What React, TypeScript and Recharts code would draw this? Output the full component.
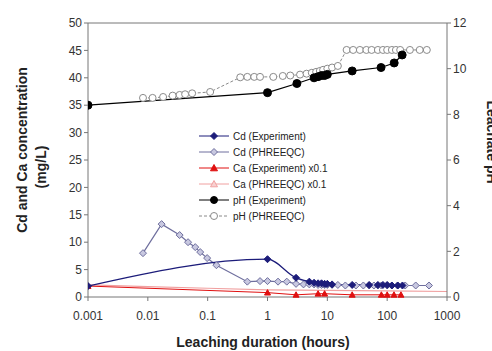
import { ComposedChart, Line, XAxis, YAxis, ReferenceLine } from 'recharts';

const xTicks = [0.001, 0.01, 0.1, 1, 10, 100, 1000];
const leftTicks = [0, 5, 10, 15, 20, 25, 30, 35, 40, 45, 50];
const rightTicks = [0, 2, 4, 6, 8, 10, 12];

const cdExpHours = [0.001, 1, 3, 5, 6, 7, 8, 9, 10, 12, 26, 50, 70, 85, 100, 120, 150, 180];
const cdExpValues = [2.0, 6.9, 3.5, 2.8, 2.6, 2.5, 2.5, 2.4, 2.4, 2.3, 2.2, 2.2, 2.2, 2.2, 2.2, 2.1, 2.1, 2.1];

const cdPhrHours = [0.0083, 0.017, 0.034, 0.047, 0.062, 0.075, 0.098, 0.14, 0.46, 0.75, 1.0, 1.5, 2.1, 3.0, 4, 5, 6, 7, 8, 9, 10, 12, 15, 20, 30, 40, 50, 60, 70, 80, 100, 120, 150, 200, 300, 500];
const cdPhrValues = [8.0, 13.3, 11.3, 10.0, 9.1, 8.2, 7.1, 5.8, 2.8, 2.9, 2.9, 2.8, 2.8, 2.4, 2.3, 2.3, 2.3, 2.2, 2.2, 2.2, 2.2, 2.2, 2.2, 2.1, 2.1, 2.1, 2.1, 2.1, 2.1, 2.1, 2.1, 2.1, 2.1, 2.1, 2.1, 2.1];

const caExpHours = [0.001, 1, 3, 7, 9, 26, 80, 100, 130, 170];
const caExpValues = [2.0, 0.8, 0.4, 0.6, 0.6, 0.4, 0.4, 0.4, 0.4, 0.4];

const caPhrHours = [0.001, 0.01, 0.1, 1, 10, 100, 1000];
const caPhrValues = [2.2, 1.9, 1.6, 1.3, 1.2, 1.1, 1.0];

const phExpHours = [0.001, 1, 3.1, 6, 7, 8, 9, 10, 26, 79, 131, 178];
const phExpValues = [8.4, 8.95, 9.35, 9.6, 9.65, 9.7, 9.7, 9.75, 9.9, 10.05, 10.25, 10.6];

const phPhrHours = [0.0083, 0.012, 0.018, 0.026, 0.034, 0.042, 0.055, 0.11, 0.35, 0.46, 0.6, 0.75, 1.25, 1.8, 2.4, 3.5, 4.5, 5.5, 6.5, 7.5, 8.5, 10, 12, 15, 21, 27, 35, 45, 55, 70, 85, 100, 120, 140, 165, 240, 350, 460];
const phPhrValues = [8.72, 8.72, 8.76, 8.82, 8.85, 8.88, 8.92, 8.98, 9.62, 9.64, 9.64, 9.64, 9.64, 9.68, 9.7, 9.74, 9.78, 9.82, 9.86, 9.9, 9.95, 10.0, 10.05, 10.12, 10.82, 10.82, 10.82, 10.82, 10.82, 10.82, 10.82, 10.82, 10.82, 10.82, 10.82, 10.82, 10.82, 10.82];

const zip = (xs: number[], ys: number[]) => xs.map((x, i) => ({ x, y: ys[i] }));

const C_CD_EXP = '#1c1c7a';
const C_CD_PHR = '#6f6f9e';
const C_CA_EXP = '#e01010';
const C_CA_PHR = '#f0a0a0';
const C_PH_EXP = '#000000';
const C_PH_PHR = '#8a8a8a';

const diamond = (stroke: string, fill: string, r = 3.5) => (p: any) => (
  <polygon key={p.index} points={`${p.cx},${p.cy - r} ${p.cx + r},${p.cy} ${p.cx},${p.cy + r} ${p.cx - r},${p.cy}`} stroke={stroke} fill={fill} strokeWidth={1} />
);
const triangle = (stroke: string, fill: string, r = 3.5) => (p: any) => (
  <polygon key={p.index} points={`${p.cx},${p.cy - r} ${p.cx + r},${p.cy + r * 0.8} ${p.cx - r},${p.cy + r * 0.8}`} stroke={stroke} fill={fill} strokeWidth={1} />
);
const circle = (stroke: string, fill: string, r = 3.5) => (p: any) => (
  <circle key={p.index} cx={p.cx} cy={p.cy} r={r} stroke={stroke} fill={fill} strokeWidth={1} />
);

const legendItems = [
  { label: 'Cd (Experiment)', color: C_CD_EXP, shape: 'diamond', fill: C_CD_EXP, dash: '' },
  { label: 'Cd (PHREEQC)', color: C_CD_PHR, shape: 'diamond', fill: '#c8c8e0', dash: '' },
  { label: 'Ca (Experiment) x0.1', color: C_CA_EXP, shape: 'triangle', fill: C_CA_EXP, dash: '' },
  { label: 'Ca (PHREEQC) x0.1', color: C_CA_PHR, shape: 'triangle', fill: '#f8d0d0', dash: '' },
  { label: 'pH (Experiment)', color: C_PH_EXP, shape: 'circle', fill: C_PH_EXP, dash: '' },
  { label: 'pH (PHREEQC)', color: C_PH_PHR, shape: 'circle', fill: '#ffffff', dash: '3 2' },
];

function LegendBox() {
  return (
    <div style={{ position: 'absolute', left: 197, top: 128, fontFamily: 'Liberation Sans, Arial, sans-serif', fontSize: 10, color: '#222' }}>
      {legendItems.map((it) => {
        const p = { cx: 17, cy: 6, index: 0 };
        const sym = it.shape === 'diamond' ? diamond(it.color, it.fill)(p) : it.shape === 'triangle' ? triangle(it.color, it.fill)(p) : circle(it.color, it.fill)(p);
        return (
          <div key={it.label} style={{ display: 'flex', alignItems: 'center', height: 16 }}>
            <svg width={34} height={12}>
              <line x1={2} y1={6} x2={32} y2={6} stroke={it.color} strokeWidth={1} strokeDasharray={it.dash} />
              {sym}
            </svg>
            <span style={{ marginLeft: 2 }}>{it.label}</span>
          </div>
        );
      })}
    </div>
  );
}

const axisTick = { fill: '#333', fontSize: 12, fontFamily: 'Liberation Sans, Arial, sans-serif' };
const titleStyle: React.CSSProperties = { position: 'absolute', fontFamily: 'Liberation Sans, Arial, sans-serif', fontWeight: 'bold', fontSize: 14, color: '#222', whiteSpace: 'nowrap' };

export default function App() {
  return (
    <div style={{ position: 'absolute', left: 0, top: 0, width: 492, height: 351, background: '#fff', overflow: 'hidden' }}>
      <ComposedChart width={492} height={351} margin={{ top: 23, right: 0, bottom: 0, left: 0 }}>
        <XAxis dataKey="x" type="number" scale="log" domain={[0.001, 1000]} ticks={xTicks} allowDataOverflow
          tickFormatter={(v: number) => String(v)} tick={axisTick} height={54} stroke="#777" tickSize={4} tickMargin={10} interval={0} />
        <YAxis yAxisId="l" type="number" domain={[0, 50]} ticks={leftTicks} tick={axisTick} width={88} stroke="#777" tickSize={4} interval={0} />
        <YAxis yAxisId="r" orientation="right" type="number" domain={[0, 12]} ticks={rightTicks} tick={axisTick} width={45} stroke="#777" tickSize={4} interval={0} />
        <ReferenceLine yAxisId="l" y={50} stroke="#777" />
        <Line yAxisId="l" data={zip(caPhrHours, caPhrValues)} dataKey="y" stroke={C_CA_PHR} strokeWidth={1.2} dot={false} isAnimationActive={false} />
        <Line yAxisId="l" data={zip(caExpHours, caExpValues)} dataKey="y" stroke={C_CA_EXP} strokeWidth={1} dot={triangle(C_CA_EXP, C_CA_EXP, 3)} isAnimationActive={false} />
        <Line yAxisId="l" data={zip(cdPhrHours, cdPhrValues)} dataKey="y" stroke={C_CD_PHR} strokeWidth={1.2} dot={diamond(C_CD_PHR, '#c8c8e0', 3.5)} isAnimationActive={false} />
        <Line yAxisId="l" data={zip(cdExpHours, cdExpValues)} dataKey="y" type="monotone" stroke={C_CD_EXP} strokeWidth={1.2} dot={diamond(C_CD_EXP, C_CD_EXP, 3.5)} isAnimationActive={false} />
        <Line yAxisId="r" data={zip(phPhrHours, phPhrValues)} dataKey="y" stroke={C_PH_PHR} strokeWidth={1} strokeDasharray="3 2" dot={circle(C_PH_PHR, '#ffffff', 3.5)} isAnimationActive={false} />
        <Line yAxisId="r" data={zip(phExpHours, phExpValues)} dataKey="y" stroke={C_PH_EXP} strokeWidth={1.2} dot={circle(C_PH_EXP, C_PH_EXP, 4)} isAnimationActive={false} />
      </ComposedChart>
      <LegendBox />
      <div style={{ ...titleStyle, left: 22, top: 150, transform: 'translate(-50%, -50%) rotate(-90deg)' }}>Cd and Ca concentration</div>
      <div style={{ ...titleStyle, left: 41, top: 167, transform: 'translate(-50%, -50%) rotate(-90deg)' }}>(mg/L)</div>
      <div style={{ ...titleStyle, left: 492, top: 142, transform: 'translate(-50%, -50%) rotate(90deg)' }}>Leachate pH</div>
      <div style={{ ...titleStyle, left: 263, top: 342, transform: 'translate(-50%, -50%)' }}>Leaching duration (hours)</div>
    </div>
  );
}
